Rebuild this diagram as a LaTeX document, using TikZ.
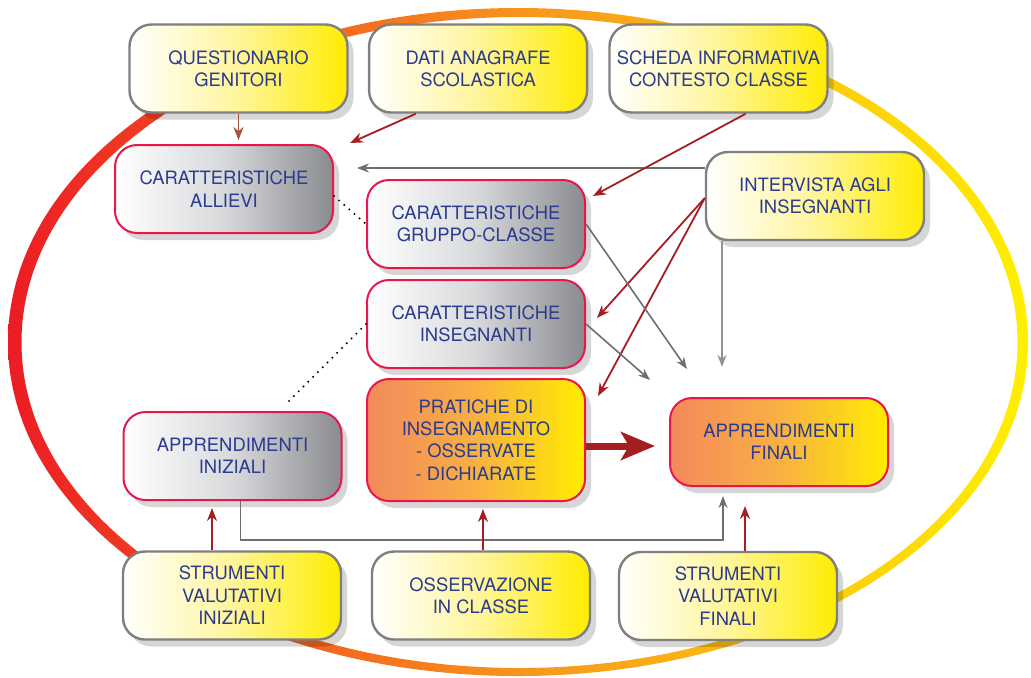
\documentclass[tikz,border=0pt]{standalone}
\usepackage{fontspec}
\setmainfont{TeX Gyre Heros}
\usetikzlibrary{arrows.meta,positioning,shadows}

\definecolor{txtblue}{HTML}{2B3B8E}
\definecolor{ringred}{HTML}{EC1C24}
\definecolor{ringorange}{HTML}{F7941D}
\definecolor{ringyellow}{HTML}{FFF000}
\definecolor{boxgray}{HTML}{7F7F7F}
\definecolor{boxred}{HTML}{E8174B}
\definecolor{darkred}{HTML}{A51E22}
\definecolor{arrgray}{HTML}{6D6E71}
\definecolor{brownarr}{HTML}{A5533E}
\definecolor{paleyellow}{HTML}{FFF59A}
\definecolor{brightyellow}{HTML}{FFEC00}
\definecolor{steelgray}{HTML}{8A8B90}
\definecolor{lightgray}{HTML}{D8D9DB}
\definecolor{hotorange}{HTML}{F3895D}
\definecolor{hotmid}{HTML}{F9B043}

\begin{document}
\begin{tikzpicture}[x=0.5pt, y=-0.5pt,
        font=\fontsize{9.2}{11.2}\selectfont,
        box/.style={rounded corners=11pt, align=center, text=txtblue, minimum width=109pt, minimum height=44pt, inner sep=1.5pt,
            drop shadow={shadow xshift=3pt, shadow yshift=-3.5pt, opacity=0.16, fill=black}},
        src/.style={box, draw=boxgray, line width=1.2pt, left color=white, right color=brightyellow, middle color=paleyellow},
        chr/.style={box, draw=boxred, line width=1pt, left color=white, right color=steelgray, middle color=lightgray},
        hot/.style={box, draw=boxred, line width=1pt, left color=hotorange, right color=brightyellow, middle color=hotmid},
        redarr/.style={-{Stealth[length=6.5pt, width=5pt]}, darkred, line width=0.9pt},
        grayarr/.style={-{Stealth[length=6pt, width=4.5pt]}, arrgray, line width=0.8pt},
        bigarr/.style={-{Stealth[length=17pt, width=14pt, inset=4pt]}, darkred, line width=3.5pt},
        dotln/.style={black, line width=1.1pt, line cap=round, dash pattern=on 0pt off 3.4pt}
    ]
    \useasboundingbox (0,0) rectangle (1031,677);

    % ring
    \shade[even odd rule, left color=ringred, right color=ringyellow, middle color=ringorange]
        (518,342) ellipse [x radius=255pt, y radius=167pt]
        (519.5,342.5) ellipse [x radius=249pt, y radius=162.75pt];

    % sources
    \node[src] (quest) at (238.5,68.5) {QUESTIONARIO\\GENITORI};
    \node[src, right=9.6pt of quest] (dati) {DATI ANAGRAFE\\SCOLASTICA};
    \node[src, right=10pt of dati] (scheda) {SCHEDA INFORMATIVA\\CONTESTO CLASSE};
    \node[src] (intervista) at (815,196) {INTERVISTA AGLI\\INSEGNANTI};

    % characteristics
    \node[chr] (allievi) at (224,189) {CARATTERISTICHE\\ALLIEVI};
    \node[chr] (gruppo) at (476,224) {CARATTERISTICHE\\GRUPPO-CLASSE};
    \node[chr, below=5pt of gruppo] (insegn) {CARATTERISTICHE\\INSEGNANTI};
    \node[hot, below=4.5pt of insegn, minimum height=61pt] (pratiche) {PRATICHE DI\\INSEGNAMENTO\\- OSSERVATE\\- DICHIARATE};
    \node[chr] (iniziali) at (232.5,456) {APPRENDIMENTI\\INIZIALI};
    \node[hot] (finali) at (779,442) {APPRENDIMENTI\\FINALI};

    % instruments
    \node[src] (strIn) at (232,595.5) {STRUMENTI\\VALUTATIVI\\INIZIALI};
    \node[src] (osserv) at (481,595.5) {OSSERVAZIONE\\IN CLASSE};
    \node[src] (strFin) at (728,596) {STRUMENTI\\VALUTATIVI\\FINALI};

    % free arrow ends
    \coordinate (datiTip) at (350,143);
    \coordinate (allieviTip) at (357,168);
    \coordinate (gruppoTip) at (593,196);
    \coordinate (insegnTip) at (597,318);
    \coordinate (praticheTip) at (598,396);
    \coordinate (finaliA) at (687,369);
    \coordinate (finaliB) at (650,380);
    \coordinate (finaliC) at (722,367);
    \coordinate (dotEnd) at (288,402);

    \draw[redarr, brownarr] (quest.south) -- ([yshift=2pt]quest.south |- allievi.north);
    \draw[redarr] (dati.216) -- (datiTip);
    \draw[grayarr] (intervista.west |- allieviTip) -- (allieviTip);
    \draw[redarr] (scheda.-59) -- (gruppoTip);
    \draw[redarr] ([yshift=-1pt]intervista.west) -- (insegnTip);
    \draw[redarr] ([yshift=-1pt]intervista.west) -- (praticheTip);
    \draw[grayarr] (gruppo.east) -- (finaliA);
    \draw[grayarr] (insegn.east) -- (finaliB);
    \draw[grayarr, arrgray!75] (intervista.south -| finaliC) -- (finaliC);
    \draw[bigarr, shorten >=7pt] ([yshift=-3pt]pratiche.east) -- ([yshift=-3pt]pratiche.east -| finali.west);
    \draw[grayarr, shorten >=4.5pt] ([xshift=4pt]iniziali.south) -- ++(0,39) -| ([xshift=-28pt]finali.south);
    \draw[redarr, shorten >=3.5pt] ([xshift=-10pt]strIn.north) -- ([xshift=-10pt]strIn.north |- iniziali.south);
    \draw[redarr, shorten >=3.5pt] ([xshift=1pt]osserv.north) -- ([xshift=1pt]osserv.north |- pratiche.south);
    \draw[redarr, shorten >=9.5pt] ([xshift=8.5pt]strFin.north) -- ([xshift=8.5pt]strFin.north |- finali.south);
    \draw[dotln] ([yshift=-3.5pt]allievi.east) -- (gruppo.west);
    \draw[dotln] (insegn.west) -- (dotEnd);
\end{tikzpicture}
\end{document}
